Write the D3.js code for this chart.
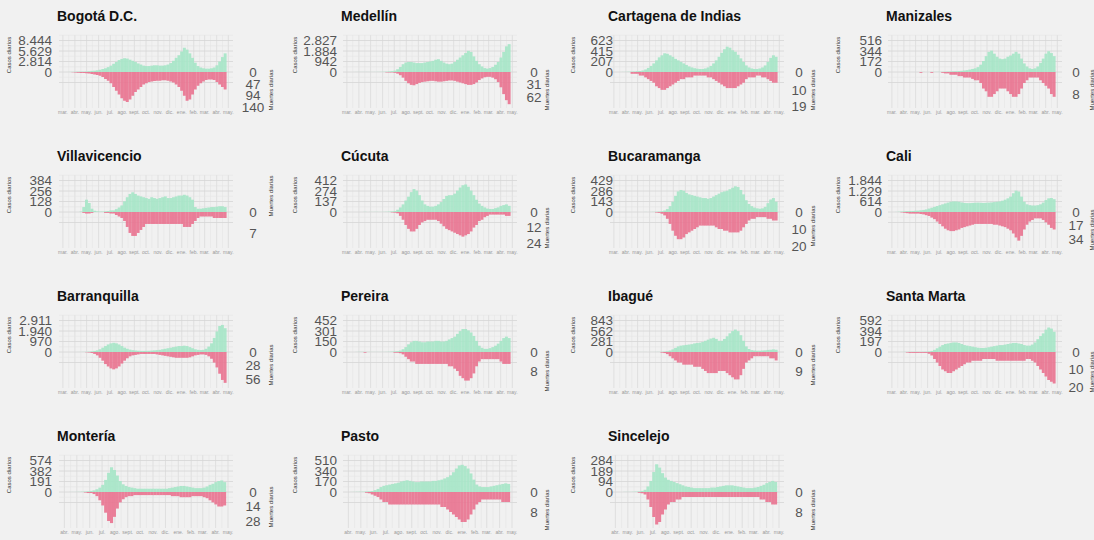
<!DOCTYPE html>
<html><head><meta charset="utf-8">
<script src="https://cdn.jsdelivr.net/npm/d3@7"></script>
<style>body{margin:0;background:#f1f1f1;}svg{display:block}</style>
</head><body><svg id="c" width="1094" height="540"></svg>
<script>
// ---------- DATA ----------
const weekStart = "2020-03-02"; // weekly values, one per week from this Monday
const cities = ["Bogotá D.C.","Medellín","Cartagena de Indias","Manizales","Villavicencio","Cúcuta","Bucaramanga","Cali","Barranquilla","Pereira","Ibagué","Santa Marta","Montería","Pasto","Sincelejo"];

const bogotaCases = [0,5,20,40,60, 80,100,90,110, 200,300,350,450, 600,800,1000,1300,1700, 2200,2700,3200,3500, 3700,3600,3300,3000,2700, 2300,2000,1700,1600, 1600,1700,1800,1800, 1700,1700,1800,2000, 2400,3000,3800,4500,5500, 6500,6000,5000,3800, 2500,1600,1200,1000, 900,900,1000,1200, 1800,2800,4000,5000];
const bogotaDeaths = [0,0,0,1,2, 3,4,4,5, 6,8,10,12, 15,20,28,35,45, 60,75,90,105, 115,120,110,95,80, 70,60,50,45, 40,38,36,35, 35,33,33,35, 38,42,50,60,75, 95,115,110,90, 70,55,45,38, 32,30,30,32, 40,50,60,70];
const medellinCases = [0,0,2,5,5, 5,5,5,5, 5,8,10,15, 20,30,50,80,120, 250,450,700,850, 900,900,850,800,800, 800,850,900,950, 1000,1100,1150,1000, 850,750,700,750, 900,1100,1300,1500,1700, 1900,1800,1400,1000, 700,500,350,300, 350,450,650,900, 1300,1800,2300,2500];
const medellinDeaths = [0,0,0,0,0, 0,0,0,0, 0,0,0,0, 0,1,1,1,2, 4,8,14,22, 28,32,33,30,27, 25,24,23,22, 22,23,24,24, 23,22,21,21, 22,24,26,28,30, 32,32,30,26, 20,16,13,12, 12,14,18,25, 38,55,70,80];
const cartagenaCases = [0,0,1,2,3, 5,8,10,15, 20,30,50,80, 120,170,230,290,330, 370,360,330,300, 260,230,200,170,140, 110,90,75,65, 60,60,70,90, 120,170,230,300, 380,450,500,480,430, 400,340,270,200, 130,90,70,60, 60,70,90,130, 200,280,330,300];
const cartagenaDeaths = [0,0,0,0,0, 0,1,1,1, 2,2,3,4, 5,6,8,9,10, 10,9,8,7, 6,5,4,4,3, 3,3,2,2, 2,2,2,3, 3,4,5,6, 7,8,9,9,9, 9,8,7,6, 4,3,3,3, 2,2,3,3, 4,5,6,6];
const manizalesCases = [0,0,0,0,0, 0,0,0,0, 0,0,1,0, 0,1,1,2,2, 3,4,6,8, 10,12,15,20,25, 30,40,50,60, 80,120,180,260, 330,350,300,250, 220,210,220,250,270, 300,330,300,220, 140,90,60,50, 60,90,150,220, 300,340,310,260];
const manizalesDeaths = [0,0,0,0,0, 0,0,0,0, 0,0.3,0,0, 0,0.3,0,0,0, 0.3,0.5,0.5,1, 1,1,1.5,1.5,2, 2,2,2.5,3, 3,4,6,7, 9,9,8,7, 6,6,6,7,8, 9,9,8,6, 4,3,2,2, 2,2,3,4, 5,6,8,9];
const villavicencioCases = [0,0,0,0,0, 0,5,60,150, 110,40,15,8, 5,5,8,12,20, 20,35,55,80, 130,180,220,240,220, 200,190,180,170, 160,180,170,160, 170,180,190,170, 170,180,190,200,200, 210,200,180,150, 60,40,40,45, 50,55,60,60, 65,70,70,60];
const villavicencioDeaths = [0,0,0,0,0, 0,0,0.3,0.5, 0.5,0.3,0,0, 0,0,0.3,0.3,0.5, 0.5,1,1.5,2, 3,5,7,8,8, 7,6,5,4, 4,4,4,4, 4,4,4,4, 4,4,4,4,4, 5,5,5,4, 3,2,1.5,1.5, 1.5,1.5,1.5,2, 2,2,2,2];
const cucutaCases = [0,0,0,0,0, 0,2,0,1, 1,2,1,1, 2,3,5,8,12, 30,60,100,150, 200,260,300,280,220, 150,100,80,70, 70,80,100,130, 170,210,220,220, 240,280,320,350,360, 330,280,220,160, 110,80,60,45, 40,40,50,60, 80,90,100,80];
const cucutaDeaths = [0,0,0,0,0, 0,0,0,0, 0,0,0,0, 0,0,0,0.3,0.5, 1,3,6,10, 13,15,15,13,10, 8,7,6,6, 6,6,7,9, 11,13,14,15, 16,17,18,19,18, 17,15,12,10, 7,6,4,3, 2,2,2,2, 2,2,3,3];
const bucaramangaCases = [0,0,0,0,0, 0,0,0,0, 0,0,1,0, 1,2,3,5,10, 20,40,80,140, 220,280,300,290,260, 240,230,220,210, 200,190,190,180, 190,210,230,250, 270,280,290,310,330, 350,340,300,240, 160,110,80,60, 50,45,50,70, 120,170,190,140];
const bucaramangaDeaths = [0,0,0,0,0, 0,0,0,0, 0,0,0,0, 0,0,0.3,0.5,1, 2,4,7,11, 14,16,16,15,13, 12,11,10,9, 8,8,8,8, 8,8,9,10, 10,11,11,12,12, 12,12,11,9, 7,5,4,4, 3,3,3,3, 4,4,5,5];
const caliCases = [0,5,15,30,40, 50,60,60,70, 80,100,120,150, 200,250,300,350,400, 450,500,550,600, 620,620,600,560,530, 520,520,530,540, 550,540,530,540, 550,560,580,600, 620,660,720,800,900, 1100,1250,1200,900, 600,450,400,380, 380,400,450,550, 700,800,820,750];
const caliDeaths = [0,0,0,0.5,1, 1.5,2,2,2, 2,2.5,3,4, 5,7,9,12,15, 18,21,23,24, 24,23,22,20,19, 18,17,16,15, 15,15,15,15, 15,15,16,16, 17,18,19,21,23, 27,32,36,30, 22,16,12,10, 8,8,8,10, 13,16,20,22];
const barranquillaCases = [0,0,0,0,0, 2,5,10,15, 30,60,100,150, 250,400,550,700,800, 850,800,700,550, 400,300,220,170,140, 120,100,100,100, 110,130,150,170, 200,250,300,350, 400,450,500,550,550, 580,550,450,350, 250,200,180,200, 300,500,800,1300, 1900,2400,2500,2200];
const barranquillaDeaths = [0,0,0,0,0, 0,0,0,0.5, 1,2,4,7, 12,18,25,30,34, 36,34,30,24, 18,13,9,7,6, 5,4,4,4, 4,4,4,5, 6,7,8,9, 10,11,12,12,12, 12,12,11,9, 7,6,5,5, 6,9,14,22, 32,45,58,64];
const pereiraCases = [0,0,0,1,2, 2,1,1,1, 1,1,1,1, 1,2,3,5,8, 12,20,40,70, 110,140,160,160,150, 140,140,150,150, 150,160,160,150, 150,160,180,200, 220,260,300,330,330, 310,280,230,160, 90,60,45,45, 55,70,90,120, 160,200,220,200];
const pereiraDeaths = [0,0,0,0,0, 0,0.3,0,0, 0,0,0,0, 0,0,0,0,0.3, 0.3,0.5,1,2, 3,4,4,5,5, 5,5,5,5, 5,5,5,5, 5,5,6,6, 7,8,10,11,12, 12,11,9,6, 4,3,3,3, 3,3,3,3, 4,5,5,5];
const ibagueCases = [0,0,0,0,0, 0,1,0,0, 1,1,1,0, 1,1,2,3,5, 10,20,40,70, 110,150,170,180,190, 200,210,230,240, 250,270,300,330, 360,380,350,300, 300,350,420,500,560, 600,560,450,300, 150,80,50,40, 35,35,40,45, 55,60,70,60];
const ibagueDeaths = [0,0,0,0,0, 0,0,0,0, 0,0,0,0, 0,0,0,0,0.3, 0.5,1,2,3, 4,5,5,6,6, 6,6,7,7, 7,8,9,10, 10,10,10,9, 9,9,10,11,12, 13,13,11,8, 5,4,3,2, 2,2,2,2, 2,3,3,4];
const santaMartaCases = [0,0,0,1,2, 2,3,3,3, 3,3,4,5, 10,20,40,70,100, 130,150,160,170, 180,180,170,150,130, 120,110,100,90, 80,75,75,80, 90,100,110,120, 130,130,140,150,160, 170,170,160,150, 130,120,120,140, 180,240,300,350, 420,460,440,380];
const santaMartaDeaths = [0,0,0,0,0, 0.3,0.5,0.5,0.5, 0.5,0.5,0.5,0.5, 1,2,4,6,8, 10,11,12,12, 11,10,9,8,7, 6,6,5,5, 5,5,4,4, 4,4,4,5, 5,5,5,5,5, 5,5,5,5, 5,4,4,5, 6,8,10,12, 14,16,17,18];
const monteriaCases = [0,0,0,0,0, 0,1,1,2, 3,5,8,12, 20,30,50,80,130, 220,350,450,400, 300,200,140,110,90, 80,70,60,60, 60,60,60,60, 60,60,60,60, 60,70,80,90,100, 110,110,100,90, 80,70,70,70, 80,100,130,150, 180,200,210,180];
const monteriaDeaths = [0,0,0,0,0, 0,0,0,0, 0,0,0.5,1, 1,2,4,8,13, 20,28,30,24, 16,10,7,5,4, 4,3,3,3, 3,3,3,3, 3,3,3,3, 3,3,4,4,4, 5,5,5,5, 4,4,4,4, 5,6,8,10, 12,14,14,13];
const pastoCases = [0,0,0,0,0, 1,2,3,4, 5,8,10,15, 30,50,80,100,110, 120,130,140,150, 170,180,190,180,170, 160,160,170,170, 170,170,180,180, 190,200,220,240, 270,320,380,430,440, 420,380,300,200, 120,90,80,80, 80,90,100,110, 120,130,140,130];
const pastoDeaths = [0,0,0,0,0, 0,0,0,0, 0,0.3,0.5,1, 1.5,2,3,4,4, 5,5,5,5, 5,5,5,5,5, 5,5,5,5, 5,5,5,5, 5,6,6,7, 8,9,10,11,12, 12,11,9,7, 5,4,3,3, 3,3,3,3, 3,4,4,4];
const sincelejoCases = [0,0,0,0,0, 0,0,1,1, 1,2,3,5, 10,20,50,100,180, 250,220,170,130, 110,100,90,80,70, 60,50,45,40, 35,35,35,35, 35,35,40,40, 45,50,55,60,60, 60,55,50,45, 40,35,35,35, 40,45,55,65, 80,90,100,90];
const sincelejoDeaths = [0,0,0,0,0, 0,0,0,0, 0,0,0,0.3, 0.5,1,3,6,10, 13,12,9,7, 5,4,4,3,3, 2,2,2,2, 2,2,2,2, 2,2,2,2, 2,2,2,2,2, 2,2,2,2, 2,2,2,2, 2,2,3,3, 4,4,5,5];

const casesSeries = [bogotaCases,medellinCases,cartagenaCases,manizalesCases,villavicencioCases,cucutaCases,bucaramangaCases,caliCases,barranquillaCases,pereiraCases,ibagueCases,santaMartaCases,monteriaCases,pastoCases,sincelejoCases];
const deathsSeries = [bogotaDeaths,medellinDeaths,cartagenaDeaths,manizalesDeaths,villavicencioDeaths,cucutaDeaths,bucaramangaDeaths,caliDeaths,barranquillaDeaths,pereiraDeaths,ibagueDeaths,santaMartaDeaths,monteriaDeaths,pastoDeaths,sincelejoDeaths];

const caseTicks = [[0,2814,5629,8444],[0,942,1884,2827],[0,207,415,623],[0,172,344,516],[0,128,256,384],[0,137,274,412],[0,143,286,429],[0,614,1229,1844],[0,970,1940,2911],[0,150,301,452],[0,281,562,843],[0,197,394,592],[0,191,382,574],[0,170,340,510],[0,94,189,284]];
const deathTicks = [[0,47,94,140],[0,31,62],[0,10,19],[0,8],[0,7],[0,12,24],[0,10,20],[0,17,34],[0,28,56],[0,8],[0,9],[0,10,20],[0,14,28],[0,8],[0,8]];
const deathAxisMax = [140,87,19.6,12.7,11.7,27,20.6,44,72.6,14.7,16.6,20,33.8,14,14];
const monthNames = ["mar.","abr.","may.","jun.","jul.","ago.","sept.","oct.","nov.","dic.","ene.","feb.","mar.","abr.","may."];

// ---------- LAYOUT ----------
const W = 1094, H = 540;
const colGrid = [59, 343, 610, 888];
const colLabelRight = [52, 337, 613, 882];
const colRightCenter = [253, 534, 799, 1076];
const colCasosX = [9, 295, 573, 838];
const colMuertesX = [271, 547, 813, 1092];
const rowZero = [72, 212, 352, 492];
const plotW = 174;
const muertesDy = [18,18,18,18, -16,16,14,18, 13,19,13,20, 15,18,18];

const svg = d3.select("#c");
svg.append("rect").attr("width",W).attr("height",H).attr("fill","#f1f1f1");
const font = "'Liberation Sans', Arial, Helvetica, sans-serif";
const loc = d3.formatLocale({decimal:",", thousands:".", grouping:[3], currency:["$",""]});
const fmt = loc.format(",d");
const parse = d3.timeParse("%Y-%m-%d");
const start = parse(weekStart);

cities.forEach((name, i) => {
  const col = i % 4, row = Math.floor(i / 4);
  const x0 = colGrid[col], zero = rowZero[row];
  const g = svg.append("g");
  const bottomRow = row === 3;
  const xs = d3.scaleTime()
    .domain([bottomRow ? new Date(2020,2,19) : new Date(2020,1,20), new Date(2021,4,13)])
    .range([x0, x0 + plotW]);
  const m = caseTicks[i][caseTicks[i].length-1];
  const yc = d3.scaleLinear().domain([0, m]).range([zero, zero - 31.5]);
  const yd = d3.scaleLinear().domain([0, deathAxisMax[i]]).range([zero, zero + 35]);
  const top = zero - 37, bot = zero + 36;

  const months = d3.timeMonth.range(xs.domain()[0], d3.timeDay.offset(xs.domain()[1],1));
  months.forEach(d => {
    g.append("line").attr("x1",xs(d)).attr("x2",xs(d)).attr("y1",top).attr("y2",bot)
      .attr("stroke","#dadada").attr("stroke-width",0.8);
    const mid = d3.timeDay.offset(d, 15);
    if (mid < xs.domain()[1] && mid > xs.domain()[0])
      g.append("line").attr("x1",xs(mid)).attr("x2",xs(mid)).attr("y1",top).attr("y2",bot)
        .attr("stroke","#e3e3e3").attr("stroke-width",0.5);
  });
  for (let k = -2; k <= 7; k++) {
    const y = yc(k * m / 6);
    g.append("line").attr("x1",x0).attr("x2",x0+plotW).attr("y1",y).attr("y2",y)
      .attr("stroke", k % 2 === 0 ? "#d6d6d6" : "#e2e2e2").attr("stroke-width", k % 2 === 0 ? 0.8 : 0.5);
  }

  const cs = casesSeries[i], ds = deathsSeries[i];
  const dates = cs.map((_, k) => d3.timeDay.offset(start, 7*k));
  g.selectAll(".c").data(cs).join("rect")
    .attr("x", (d,k) => xs(dates[k]))
    .attr("width", (d,k) => xs(d3.timeDay.offset(dates[k],7)) - xs(dates[k]) + 0.2)
    .attr("y", d => yc(d)).attr("height", d => zero - yc(d))
    .attr("fill", "#a9e6c8").attr("fill-opacity", 0.95);
  g.selectAll(".d").data(ds).join("rect")
    .attr("x", (d,k) => xs(dates[k]))
    .attr("width", (d,k) => xs(d3.timeDay.offset(dates[k],7)) - xs(dates[k]) + 0.2)
    .attr("y", zero).attr("height", d => yd(d) - zero)
    .attr("fill", "#e97894").attr("fill-opacity", 0.95);

  const labs = bottomRow ? monthNames.slice(1) : monthNames;
  const firstMonth = bottomRow ? new Date(2020,3,1) : new Date(2020,2,1);
  labs.forEach((t, k) => {
    g.append("text").attr("x", xs(d3.timeMonth.offset(firstMonth, k))).attr("y", zero + 42)
      .attr("text-anchor","middle").attr("font-family",font).attr("font-size",5)
      .attr("fill","#999").text(t);
  });

  g.append("text").attr("x", x0 - 2).attr("y", zero - 51).attr("font-family",font)
    .attr("font-weight","bold").attr("font-size",14).attr("fill","#111").text(name);

  caseTicks[i].forEach(v => {
    g.append("text").attr("x", colLabelRight[col]).attr("y", yc(v)).attr("dy","0.36em")
      .attr("text-anchor","end").attr("font-family",font).attr("font-size",13.5)
      .attr("fill","#555").text(fmt(v));
  });
  deathTicks[i].forEach(v => {
    g.append("text").attr("x", colRightCenter[col]).attr("y", yd(v)).attr("dy","0.36em")
      .attr("text-anchor","middle").attr("font-family",font).attr("font-size",13.5)
      .attr("fill","#555").text(fmt(v));
  });
  g.append("text").attr("transform",`translate(${colCasosX[col]},${zero-17}) rotate(-90)`)
    .attr("text-anchor","middle").attr("dy","0.35em").attr("font-family",font).attr("font-size",6)
    .attr("fill","#333").text("Casos diarios");
  g.append("text").attr("transform",`translate(${colMuertesX[col]},${zero+muertesDy[i]}) rotate(-90)`)
    .attr("text-anchor","middle").attr("dy","0.35em").attr("font-family",font).attr("font-size",6)
    .attr("fill","#333").text("Muertes diarias");
});
</script></body></html>
